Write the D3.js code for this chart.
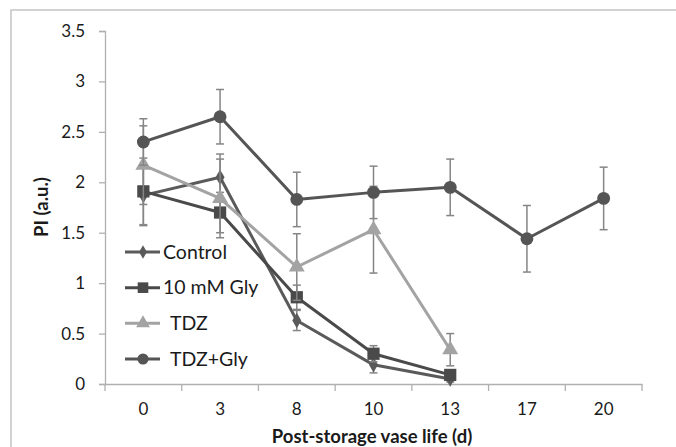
<!DOCTYPE html>
<html>
<head>
<meta charset="utf-8">
<script src="https://cdn.jsdelivr.net/npm/d3@7"></script>
<style>
  html, body { margin: 0; padding: 0; background: #fff; }
  svg { display: block; }
  text { font-family: Lato, "Open Sans", sans-serif; fill: #1a1a1a; }
</style>
</head>
<body>
<svg id="chart" width="676" height="447"></svg>
<script>
const days = ["0", "3", "8", "10", "13", "17", "20"];
const yTicks = [0, 0.5, 1, 1.5, 2, 2.5, 3, 3.5];

const controlVals = [1.87, 2.05, 0.63, 0.19, 0.05];
const controlErr  = [0.30, 0.23, 0.10, 0.08, 0.03];
const glyVals     = [1.91, 1.70, 0.86, 0.30, 0.09];
const glyErr      = [0.33, 0.20, 0.12, 0.08, 0.04];
const tdzVals     = [2.17, 1.84, 1.16, 1.53, 0.34];
const tdzErr      = [0.39, 0.39, 0.33, 0.43, 0.16];
const tdzGlyVals  = [2.40, 2.65, 1.83, 1.90, 1.95, 1.44, 1.84];
const tdzGlyErr   = [0.23, 0.27, 0.27, 0.26, 0.28, 0.33, 0.31];

const seriesNames = ["Control", "10 mM Gly", "TDZ", "TDZ+Gly"];

const series = [
  { name: seriesNames[0], vals: controlVals, err: controlErr, color: "#5a5a5a", shape: d3.symbolDiamond, size: 70 },
  { name: seriesNames[1], vals: glyVals, err: glyErr, color: "#4a4a4a", shape: d3.symbolSquare, size: 150 },
  { name: seriesNames[2], vals: tdzVals, err: tdzErr, color: "#a3a3a3", shape: d3.symbolTriangle, size: 110 },
  { name: seriesNames[3], vals: tdzGlyVals, err: tdzGlyErr, color: "#555555", shape: d3.symbolCircle, size: 130 }
];

const svg = d3.select("#chart");

// chart border
svg.append("rect")
  .attr("x", 11).attr("y", 10)
  .attr("width", 700).attr("height", 460)
  .attr("fill", "none").attr("stroke", "#c4c4c4").attr("stroke-width", 1.5);

const x = d3.scaleBand().domain(days).range([105, 642]).padding(0);
const y = d3.scaleLinear().domain([0, 3.5]).range([384, 31]);
const cx = d => x(d) + x.bandwidth() / 2;

// y axis
const yAxis = svg.append("g")
  .attr("transform", "translate(105,0)")
  .call(d3.axisLeft(y).tickValues(yTicks).tickSize(6).tickPadding(14).tickFormat(d3.format("")));
yAxis.select(".domain").attr("stroke", "#b0b0b0").attr("stroke-width", 1.3);
yAxis.selectAll(".tick line").attr("stroke", "#b0b0b0").attr("stroke-width", 1.3);
yAxis.selectAll(".tick text").style("font-size", "17px").attr("fill", "#1a1a1a");

// x axis
const xAxis = svg.append("g")
  .attr("transform", "translate(0,384)")
  .call(d3.axisBottom(x).tickSize(0).tickPadding(19).tickSizeOuter(0));
xAxis.select(".domain").attr("stroke", "#b0b0b0").attr("stroke-width", 1.3);
xAxis.selectAll(".tick text").style("font-size", "17px").attr("fill", "#1a1a1a");
// boundary ticks between categories
const bounds = days.map(d => x(d)).concat([x(days[days.length - 1]) + x.step()]);
svg.append("g").selectAll("line").data(bounds).join("line")
  .attr("x1", d => d).attr("x2", d => d)
  .attr("y1", 384).attr("y2", 391)
  .attr("stroke", "#b0b0b0").attr("stroke-width", 1.3);

// axis titles
svg.append("text")
  .attr("x", 372).attr("y", 443)
  .attr("text-anchor", "middle")
  .style("font-size", "18.5px").style("font-weight", "bold")
  .text("Post-storage vase life (d)");
svg.append("text")
  .attr("transform", "translate(48,207) rotate(-90)")
  .attr("text-anchor", "middle")
  .style("font-size", "18.5px").style("font-weight", "bold")
  .text("PI (a.u.)");

const line = d3.line().x(d => cx(d.day)).y(d => y(d.v));

series.forEach(s => {
  const pts = s.vals.map((v, i) => ({ day: days[i], v: v, e: s.err[i] }));
  const g = svg.append("g");
  g.append("path").datum(pts)
    .attr("d", line).attr("fill", "none")
    .attr("stroke", s.color).attr("stroke-width", 3).attr("stroke-linejoin", "round");
  const eb = g.append("g").selectAll("g").data(pts).join("g");
  eb.append("line")
    .attr("x1", d => cx(d.day)).attr("x2", d => cx(d.day))
    .attr("y1", d => y(d.v - d.e)).attr("y2", d => y(d.v + d.e))
    .attr("stroke", "#858585").attr("stroke-width", 1.5);
  [-1, 1].forEach(sign => {
    eb.append("line")
      .attr("x1", d => cx(d.day) - 4).attr("x2", d => cx(d.day) + 4)
      .attr("y1", d => y(d.v + sign * d.e)).attr("y2", d => y(d.v + sign * d.e))
      .attr("stroke", "#858585").attr("stroke-width", 1.5);
  });
  g.append("g").selectAll("path").data(pts).join("path")
    .attr("transform", d => `translate(${cx(d.day)},${y(d.v)})`)
    .attr("d", d3.symbol().type(s.shape).size(s.size))
    .attr("fill", s.color);
});

// legend
const legendY = d3.scaleLinear().domain([0, 3]).range([252, 359]);
const leg = svg.append("g").selectAll("g").data(series).join("g")
  .attr("transform", (d, i) => `translate(0,${legendY(i)})`);
leg.append("line")
  .attr("x1", 125).attr("x2", 160).attr("y1", 0).attr("y2", 0)
  .attr("stroke", d => d.color).attr("stroke-width", 3);
leg.append("path")
  .attr("transform", "translate(143,0)")
  .attr("d", d => d3.symbol().type(d.shape).size(d.size * 0.75)())
  .attr("fill", d => d.color);
leg.append("text")
  .attr("x", (d, i) => i >= 2 ? 170 : 163)
  .attr("y", 0).attr("dy", "0.35em")
  .style("font-size", "19.5px")
  .text(d => d.name);
</script>
</body>
</html>
